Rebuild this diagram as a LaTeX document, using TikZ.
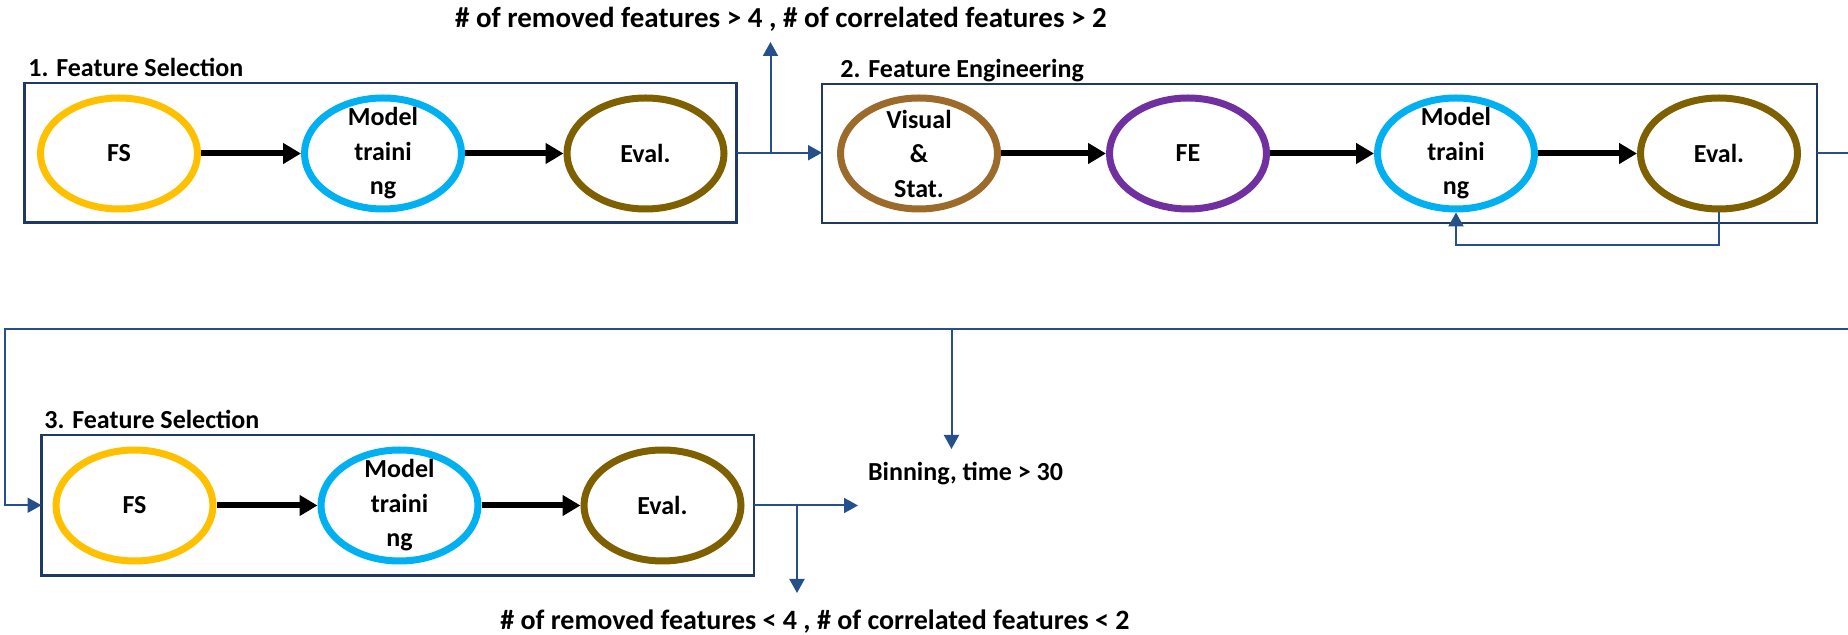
\documentclass[tikz,border=0pt]{standalone}
\usepackage{fontspec}
\setmainfont{Carlito}
\usetikzlibrary{arrows.meta,shapes.geometric}
\definecolor{cyel}{HTML}{FFC000}
\definecolor{ccyan}{HTML}{00B0F0}
\definecolor{cevalbr}{HTML}{7F6000}
\definecolor{cvsbr}{HTML}{9C6A2B}
\definecolor{cpurple}{HTML}{7030A0}
\definecolor{boxblue}{HTML}{203864}
\definecolor{linkblue}{HTML}{25508C}
\begin{document}
\begin{tikzpicture}[x=0.5pt,y=-0.5pt,
  txt/.style={font=\bfseries\fontsize{13}{17.25}\selectfont, text=black},
  bigtxt/.style={font=\bfseries\fontsize{14.5}{17.25}\selectfont, text=black},
  bottxtstyle/.style={font=\bfseries\fontsize{14}{17.25}\selectfont, text=black},
  oval/.style={ellipse, draw, line width=3.5pt, minimum width=78.5pt, minimum height=55.5pt, inner sep=0pt},
  intext/.style={txt, align=center},
  panel/.style={draw=boxblue, line width=1.3pt, inner sep=0pt, outer sep=0pt},
  flow/.style={line width=3pt, -{Triangle[length=9pt,width=10pt]}},
  link/.style={draw=linkblue, line width=1pt},
  linkarr/.style={link, -{Triangle[length=7pt,width=7.5pt]}},
  plabel/.style={txt, anchor=base west, inner sep=0pt},
]
\useasboundingbox (0,0) rectangle (1848,635);

% panels
\node[panel, minimum width=356pt, minimum height=69.75pt] (b1) at (380.5,152.75) {};
\node[panel, minimum width=497.5pt, minimum height=69.5pt] (b2) at (1319.5,153.5) {};
\node[panel, minimum width=356.25pt, minimum height=70.25pt] (b3) at (397.75,505.25) {};

\node[plabel] (t1) at (28,77) {1. Feature Selection};
\node[plabel] (t2) at (840,78) {2. Feature Engineering};
\node[plabel] (t3) at (44,429) {3. Feature Selection};

% row 1
\node[oval, draw=cyel, label={[intext]center:FS}] (fs1) at (119,153.5) {};
\node[oval, draw=ccyan, label={[intext]center:{Model\\traini\\ng}}] (mt1) at (383,153.5) {};
\node[oval, draw=cevalbr, label={[intext]center:Eval.}] (ev1) at (645.5,153.5) {};

% row 2
\node[oval, draw=cvsbr, label={[intext]center:{Visual\\\&\\Stat.}}] (vs2) at (919,153.5) {};
\node[oval, draw=cpurple, label={[intext]center:FE}] (fe2) at (1188,153.5) {};
\node[oval, draw=ccyan, label={[intext]center:{Model\\traini\\ng}}] (mt2) at (1456,153.5) {};
\node[oval, draw=cevalbr, label={[intext]center:Eval.}] (ev2) at (1719,153.5) {};

% row 3
\node[oval, draw=cyel, label={[intext]center:FS}] (fs3) at (134.5,505.5) {};
\node[oval, draw=ccyan, label={[intext]center:{Model\\traini\\ng}}] (mt3) at (399.5,505.5) {};
\node[oval, draw=cevalbr, label={[intext]center:Eval.}] (ev3) at (662.5,505.5) {};

% black flow arrows
\draw[flow] (fs1) -- (mt1);
\draw[flow] (mt1) -- (ev1);
\draw[flow] (vs2) -- (fe2);
\draw[flow] (fe2) -- (mt2);
\draw[flow] (mt2) -- (ev2);
\draw[flow] (fs3) -- (mt3);
\draw[flow] (mt3) -- (ev3);

% texts
\node[bigtxt] (toptxt) at (781,19) {\# of removed features > 4 , \# of correlated features > 2};
\node[txt, anchor=west] (bin) at (861,474) {Binning, time > 30};
\node[bottxtstyle] (bottxt) at (815,622) {\# of removed features < 4 , \# of correlated features < 2};

% blue connectors
\coordinate (j1) at (770.5,152.75);
\coordinate (upTip) at (770.5,42);
\draw[linkarr] (b1.east) -- (b2.west |- b1.east);
\draw[linkarr] (j1) -- (upTip);

\coordinate (e2out) at (1848,153.5);
\draw[link] (b2.east) -- (e2out);

\draw[linkarr] (ev2.south) -- ++(0,32.5) -| (mt2.south);

\coordinate (r1) at (1848,329);
\coordinate (l1) at (5,329);
\draw[linkarr] (r1) -- (l1) |- (b3.west);

\coordinate (j2) at (951.5,329);
\coordinate (binTip) at (951.5,449);
\draw[linkarr] (j2) -- (binTip);

\coordinate (outTip) at (858,505.5);
\draw[linkarr] (b3.east |- fs3) -- (outTip);
\coordinate (j3) at (797,505.5);
\coordinate (downTip) at (797,593);
\draw[linkarr] (j3) -- (downTip);
\end{tikzpicture}
\end{document}
